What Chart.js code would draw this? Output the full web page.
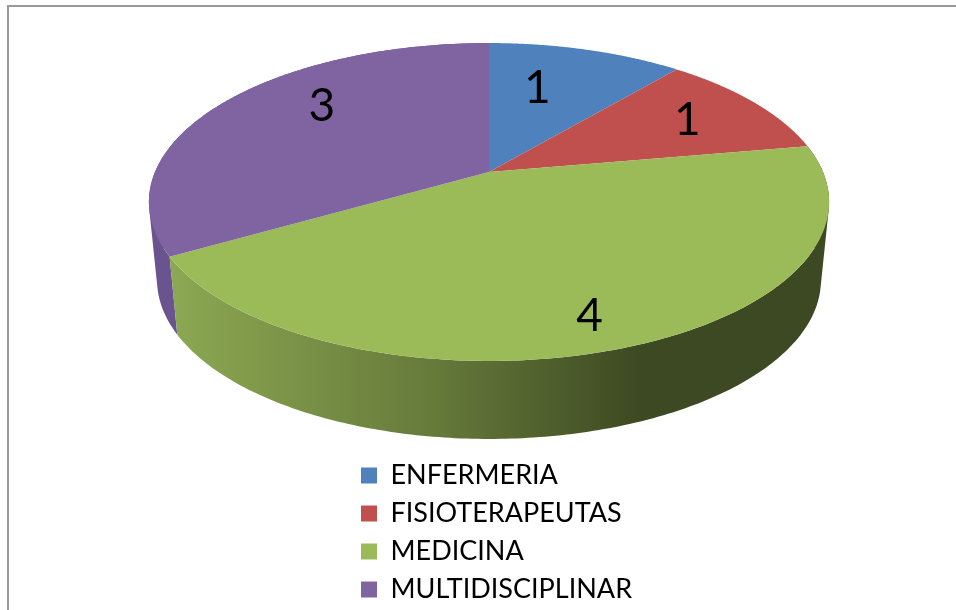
<!DOCTYPE html>
<html lang="es">
<head>
  <meta charset="UTF-8">
  <title>Pie 3D</title>
  <script src="https://cdn.jsdelivr.net/npm/chart.js"></script>
  <style>
    html, body { margin: 0; background: #fff; overflow: hidden; }
    #frame {
      position: absolute;
      left: 7px;
      top: 5px;
      width: 956px;
      height: 620px;
      border-left: 2px solid #999;
      border-top: 2px solid #999;
    }
    #pieChart { position: absolute; left: 0; top: 0; }
  </style>
</head>
<body>
  <div id="frame"></div>
  <canvas id="pieChart" width="956" height="610"></canvas>

  <script>
    const categories = ["ENFERMERIA", "FISIOTERAPEUTAS", "MEDICINA", "MULTIDISCIPLINAR"];
    const values = [1, 1, 4, 3];
    const colors = ["#4f81bd", "#c0504d", "#9bbb59", "#8064a2"];

    // where the value label sits inside each slice
    const labelRadius = [0.65, 0.74, 0.83, 0.73];
    const labelTurn = [-5.6, -0.7, 2, 11.6];

    // perspective of the tilted disc, in pixels
    const spanX = 334, spanY = 153.3, persp = 0.1887;
    const depth = 78, baseScale = 0.976;

    function project(arc, angle, r, isBase) {
      const u = r * Math.cos(angle), v = r * Math.sin(angle);
      const w = 1 - persp * v;
      const s = isBase ? baseScale : 1;
      return {
        x: arc.x + spanX * s * u / w,
        y: arc.y + spanY * v / w + (isBase ? depth : 0)
      };
    }

    function sideFill(ctx, index) {
      if (index === 3) return "#6a5490";
      const g = ctx.createLinearGradient(177, 0, 820, 0);
      g.addColorStop(0, "#8ba752");
      g.addColorStop(0.4, "#667a3a");
      g.addColorStop(0.72, "#3d4922");
      g.addColorStop(1, "#3d4922");
      return g;
    }

    function sweep(arc, isBase) {
      const pts = [];
      const steps = 200;
      for (let i = 0; i <= steps; i++) {
        const a = arc.startAngle + (arc.endAngle - arc.startAngle) * i / steps;
        pts.push(project(arc, a, 1, isBase));
      }
      return pts;
    }

    // add a quad to the path, always wound the same way so nonzero fill merges them
    function addQuad(ctx, q) {
      let area = 0;
      q.forEach((p, i) => {
        const n = q[(i + 1) % q.length];
        area += p.x * n.y - n.x * p.y;
      });
      const pts = area < 0 ? q.slice().reverse() : q;
      pts.forEach((p, i) => i ? ctx.lineTo(p.x, p.y) : ctx.moveTo(p.x, p.y));
      ctx.closePath();
    }

    const disc3d = {
      id: "disc3d",
      afterLayout(chart) {
        // legend sits under the pie, not beside it
        const legend = chart.legend;
        legend.left = 361 - legend.options.labels.padding;
        legend.top = 451;
        legend.right = 956;
        legend.bottom = legend.top + legend.height;
      },
      beforeDatasetDraw(chart, args) {
        const ctx = chart.ctx;
        const arcs = args.meta.data;

        // side wall first, only purple and green can be seen
        [3, 2].forEach(i => {
          const top = sweep(arcs[i], false);
          const base = sweep(arcs[i], true);
          ctx.beginPath();
          for (let k = 0; k < top.length - 1; k++) {
            addQuad(ctx, [top[k], top[k + 1], base[k + 1], base[k]]);
          }
          ctx.fillStyle = sideFill(ctx, i);
          ctx.fill();
        });

        // top face
        arcs.forEach((arc, i) => {
          ctx.beginPath();
          const c = project(arc, 0, 0, false);
          ctx.moveTo(c.x, c.y);
          sweep(arc, false).forEach(p => ctx.lineTo(p.x, p.y));
          ctx.closePath();
          ctx.fillStyle = colors[i];
          ctx.fill();
        });

        // value labels
        ctx.fillStyle = "#000";
        ctx.font = "46px Lato";
        ctx.textAlign = "center";
        ctx.textBaseline = "middle";
        arcs.forEach((arc, i) => {
          const mid = (arc.startAngle + arc.endAngle) / 2 + labelTurn[i] * Math.PI / 180;
          const p = project(arc, mid, labelRadius[i], false);
          ctx.fillText(String(values[i]), p.x, p.y + 2);
        });
        return false;
      }
    };

    new Chart(document.getElementById("pieChart"), {
      type: "pie",
      data: {
        labels: categories,
        datasets: [{ data: values, backgroundColor: colors, borderWidth: 0 }]
      },
      options: {
        responsive: false,
        animation: false,
        layout: { padding: { left: 282, bottom: 266 } },
        plugins: {
          tooltip: { enabled: false },
          legend: {
            position: "right",
            align: "start",
            maxWidth: 260,
            labels: {
              color: "#000",
              font: { family: "Lato", size: 27 },
              boxWidth: 16,
              boxHeight: 16,
              padding: 11
            }
          }
        }
      },
      plugins: [disc3d]
    });
  </script>
</body>
</html>
